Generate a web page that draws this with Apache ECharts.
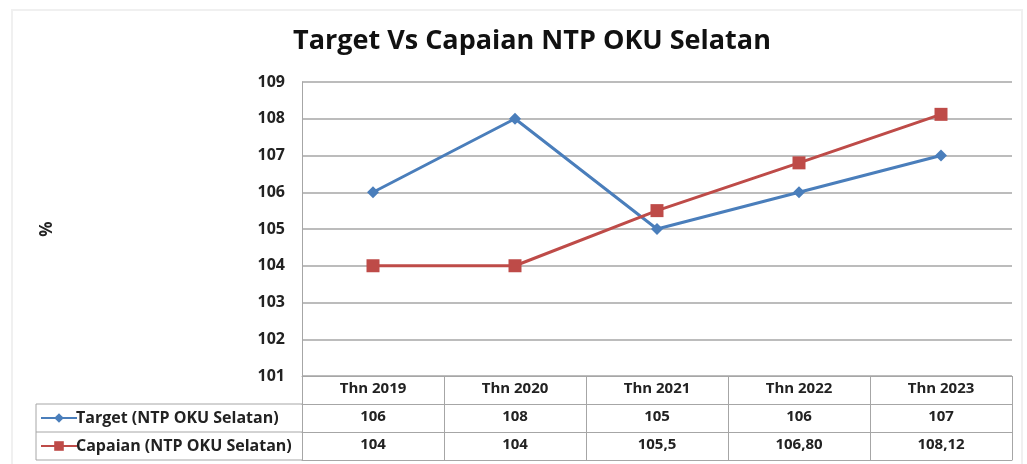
<!DOCTYPE html>
<html>
<head>
<meta charset="utf-8">
<script src="https://cdn.jsdelivr.net/npm/echarts@6/dist/echarts.min.js"></script>
<style>
  html, body { margin: 0; padding: 0; background: #fff; }
  #chart { width: 1027px; height: 464px; }
</style>
</head>
<body>
<div id="chart"></div>
<script>
// data
const years = ["Thn 2019", "Thn 2020", "Thn 2021", "Thn 2022", "Thn 2023"];
const targetName = "Target (NTP OKU Selatan)";
const capaianName = "Capaian (NTP OKU Selatan)";
const targetValues = [106, 108, 105, 106, 107];
const capaianValues = [104, 104, 105.5, 106.8, 108.12];
const targetLabels = ["106", "108", "105", "106", "107"];
const capaianLabels = ["104", "104", "105,5", "106,80", "108,12"];

const txtFont = "Open Sans";
const gridColor = "#a6a6a6";
const rowH = 28;

const chart = echarts.init(document.getElementById("chart"), null, { renderer: "canvas" });

const tableAxis = (data, offset, showLabel) => ({
  type: "category",
  position: "bottom",
  offset: offset,
  data: data,
  boundaryGap: true,
  axisLine: { show: true, lineStyle: { color: gridColor, width: 1 } },
  axisTick: { show: false },
  axisLabel: {
    show: showLabel,
    margin: 5,
    color: "#222",
    fontFamily: txtFont,
    fontWeight: "bold",
    fontSize: 15
  }
});

chart.setOption({
  animation: false,
  backgroundColor: "#fff",
  title: {
    text: "Target Vs Capaian NTP OKU Selatan",
    left: 288,
    top: 23,
    textStyle: { fontFamily: txtFont, fontWeight: "bold", fontSize: 27, color: "#111" }
  },
  legend: {
    orient: "vertical",
    left: 40,
    top: 410,
    padding: 0,
    itemGap: 12,
    itemWidth: 36,
    itemHeight: 12,
    data: [targetName, capaianName],
    textStyle: { fontFamily: txtFont, fontWeight: "bold", fontSize: 16, lineHeight: 16, color: "#222", padding: [0, 0, 0, -6] }
  },
  grid: { left: 302, right: 15, top: 82, bottom: 88 },
  xAxis: [
    {
      type: "category",
      data: years,
      boundaryGap: true,
      axisLine: { show: true, lineStyle: { color: gridColor } },
      axisTick: { show: true, length: rowH * 3, inside: false, lineStyle: { color: gridColor } },
      axisLabel: { margin: 5, color: "#222", fontFamily: txtFont, fontWeight: "bold", fontSize: 15 }
    },
    tableAxis(targetLabels, rowH, true),
    tableAxis(capaianLabels, rowH * 2, true),
    tableAxis(years, rowH * 3, false)
  ],
  yAxis: {
    type: "value",
    min: 101,
    max: 109,
    interval: 1,
    name: "%",
    nameLocation: "middle",
    nameRotate: 90,
    nameGap: 246,
    nameTextStyle: { fontFamily: txtFont, fontWeight: "bold", fontSize: 17, color: "#222" },
    axisLine: { show: true, lineStyle: { color: gridColor } },
    axisTick: { show: false },
    axisLabel: { margin: 17, color: "#222", fontFamily: txtFont, fontWeight: "bold", fontSize: 16 },
    splitLine: { lineStyle: { color: gridColor, width: 1.5 } }
  },
  series: [
    {
      name: targetName,
      type: "line",
      data: targetValues,
      symbol: "diamond",
      symbolSize: 12,
      color: "#4a7ebb",
      lineStyle: { width: 3, color: "#4a7ebb" },
      itemStyle: { color: "#4a7ebb" }
    },
    {
      name: capaianName,
      type: "line",
      data: capaianValues,
      symbol: "rect",
      symbolSize: 13,
      color: "#be4b48",
      lineStyle: { width: 3, color: "#be4b48" },
      itemStyle: { color: "#be4b48" }
    }
  ],
  graphic: [
    // left column of the data table (legend cells)
    { type: "line", shape: { x1: 36, y1: 404, x2: 302, y2: 404 }, style: { stroke: gridColor, lineWidth: 1 } },
    { type: "line", shape: { x1: 36, y1: 432, x2: 302, y2: 432 }, style: { stroke: gridColor, lineWidth: 1 } },
    { type: "line", shape: { x1: 36, y1: 460, x2: 302, y2: 460 }, style: { stroke: gridColor, lineWidth: 1 } },
    { type: "line", shape: { x1: 36, y1: 404, x2: 36, y2: 460 }, style: { stroke: gridColor, lineWidth: 1 } },
    // faint outer frame
    { type: "rect", shape: { x: 12, y: 10, width: 1010, height: 460 }, style: { fill: null, stroke: "#f0f0f0", lineWidth: 2 } }
  ]
});
</script>
</body>
</html>
